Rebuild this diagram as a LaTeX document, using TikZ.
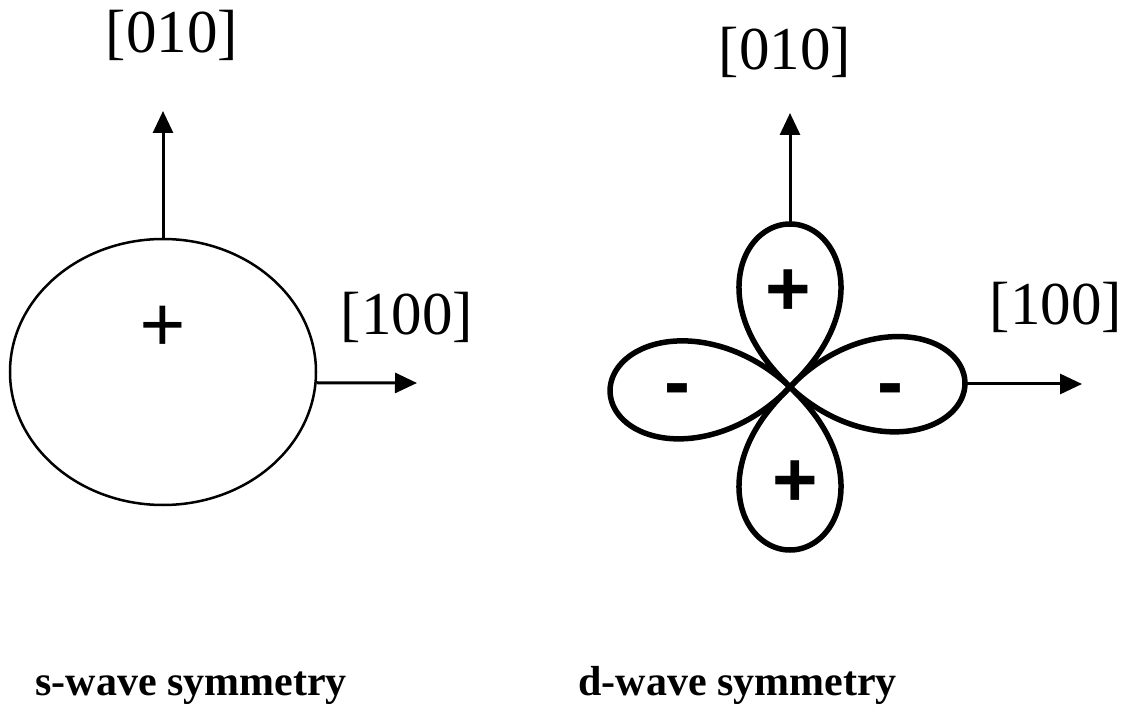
\documentclass[tikz,border=0pt]{standalone}
\usepackage{fontspec}
\setmainfont{Liberation Serif}
\setsansfont{Liberation Sans}
\usetikzlibrary{shapes.geometric, arrows.meta, positioning, calc}

\begin{document}
\begin{tikzpicture}[x=1pt, y=-1pt,
    axis/.style={line width=3pt, -{Triangle[length=22pt, width=20pt]}},
    miller/.style={font=\fontsize{61}{61}\selectfont, anchor=base},
    caption/.style={font=\fontsize{42}{42}\selectfont\bfseries, anchor=base west},
    sign/.style={font=\fontsize{82}{82}\selectfont\bfseries, inner sep=0pt},
    dsign/.style={font=\fontsize{78}{78}\selectfont\sffamily\bfseries, inner sep=0pt},
    lobe/.style={line width=5.5pt, line join=round}]
  \useasboundingbox (0,0) rectangle (1138,708);
  % s-wave
  \node[draw, ellipse, line width=2.5pt, minimum width=306pt, minimum height=266pt, inner sep=0pt] (sorb) at (163,372) {};
  \node[sign] (splus) at (163,329) {+};
  \coordinate (stop) at (163,111);
  \coordinate (sright) at (417,383);
  \draw[axis] (sorb.north) -- (stop);
  \draw[axis] (sorb.-4) -- (sright);
  \node[miller] (s010) at (172,53) {[010]};
  \node[miller] (s100) at (407,335) {[100]};
  \node[caption] (scap) at (32,695) {s-wave symmetry};
  % d-wave
  \coordinate (dc) at (790,387);
  \foreach \rot/\len/\pw in {-90/163/0.7, 90/163/0.7, 178.5/180/1, -1.5/175/1}
    \draw[lobe, shift={(dc)}] plot[domain=-45:45, samples=121] (\x+\rot:{\len*max(cos(2*\x),0.0001)^\pw});
  \coordinate (dnorth) at (790,224);
  \coordinate (dtopend) at (790,113);
  \coordinate (deast) at (966,384);
  \coordinate (deastend) at (1082,384);
  \draw[axis] (dnorth) -- (dtopend);
  \draw[axis] (deast) -- (deastend);
  \node[dsign] (dplusa) at (788,293) {+};
  \node[dsign] (dplusb) at (795,484) {+};
  \node[dsign] (dminusa) at (677,396) {-};
  \node[dsign] (dminusb) at (890,396) {-};
  \node[miller] (d010) at (785,70) {[010]};
  \node[miller] (d100) at (1056,325) {[100]};
  \node[caption] (dcap) at (575,695) {d-wave symmetry};
\end{tikzpicture}
\end{document}
